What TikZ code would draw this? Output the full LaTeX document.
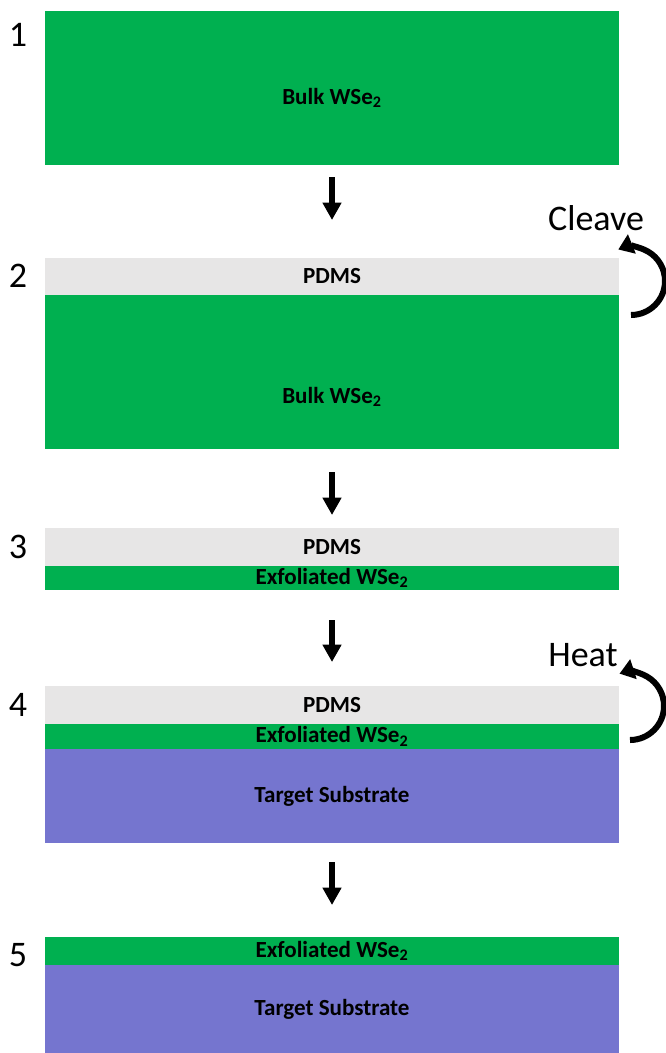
\documentclass[tikz,border=0pt]{standalone}
\usepackage{fontspec}
\setmainfont{Carlito}
\usetikzlibrary{arrows.meta,positioning}
\definecolor{flake}{HTML}{00B050}
\definecolor{pdms}{HTML}{E7E6E6}
\definecolor{substrate}{HTML}{7575CF}

\begin{document}
\begin{tikzpicture}[x=0.75pt,y=-0.75pt,
  layer/.style={minimum width=430.5pt,inner sep=0pt,outer sep=0pt,font=\fontsize{17.3}{20}\selectfont\bfseries},
  bulklabel/.style={font=\fontsize{17.3}{20}\selectfont\bfseries},
  stepnum/.style={font=\fontsize{27}{32}\selectfont},
  down/.style={-{Triangle[width=13.5pt,length=13pt]},line width=4.5pt},
  turn/.style={-{Triangle[width=15pt,length=11pt]},line width=4.5pt}]
  \useasboundingbox (0,0) rectangle (665,1053);

  % Step 1
  \node[layer,fill=flake,minimum height=115.5pt,label={[bulklabel,yshift=-7.5pt]center:Bulk WSe\textsubscript{2}}] (bulkA) at (332,88) {};
  \node[stepnum] (numA) at (18,35) {1};

  % Step 2
  \node[layer,fill=pdms,minimum height=27.75pt] (pdmsB) at (332,276.5) {PDMS};
  \node[layer,fill=flake,minimum height=115.5pt,below=0pt of pdmsB,label={[bulklabel,yshift=-18.75pt]center:Bulk WSe\textsubscript{2}}] (bulkB) {};
  \node[stepnum] (numB) at (18,276) {2};
  \node[stepnum] (cleave) at (596,218) {Cleave};
  \coordinate (cleaveEnd) at (631,315);
  \draw[turn] (cleaveEnd) arc[start angle=-90,end angle=112,radius=25.5pt];

  % Step 3
  \node[layer,fill=pdms,minimum height=28.5pt] (pdmsC) at (332,547) {PDMS};
  \node[layer,fill=flake,minimum height=18pt,below=0pt of pdmsC] (flakeC) {Exfoliated WSe\textsubscript{2}};
  \node[stepnum] (numC) at (18,547) {3};

  % Step 4
  \node[layer,fill=pdms,minimum height=28.5pt] (pdmsD) at (332,705) {PDMS};
  \node[layer,fill=flake,minimum height=18.75pt,below=0pt of pdmsD] (flakeD) {Exfoliated WSe\textsubscript{2}};
  \node[layer,fill=substrate,minimum height=70.5pt,below=0pt of flakeD] (subD) {Target Substrate};
  \node[stepnum] (numD) at (18,705) {4};
  \node[stepnum] (heat) at (583,655) {Heat};
  \coordinate (heatEnd) at (630,740);
  \draw[turn] (heatEnd) arc[start angle=-90,end angle=108,radius=25.5pt];

  % Step 5
  \node[layer,fill=flake,minimum height=21pt] (flakeE) at (332,951) {Exfoliated WSe\textsubscript{2}};
  \node[layer,fill=substrate,minimum height=66pt,below=0pt of flakeE] (subE) {Target Substrate};
  \node[stepnum] (numE) at (18,955) {5};

  % process arrows
  \draw[down,shorten <=9pt,shorten >=28.5pt] (bulkA.south) -- (pdmsB.north);
  \draw[down,shorten <=17.25pt,shorten >=9.75pt] (bulkB.south) -- (pdmsC.north);
  \draw[down,shorten <=22.5pt,shorten >=18pt] (flakeC.south) -- (pdmsD.north);
  \draw[down,shorten <=14.25pt,shorten >=24pt] (subD.south) -- (flakeE.north);
\end{tikzpicture}
\end{document}
